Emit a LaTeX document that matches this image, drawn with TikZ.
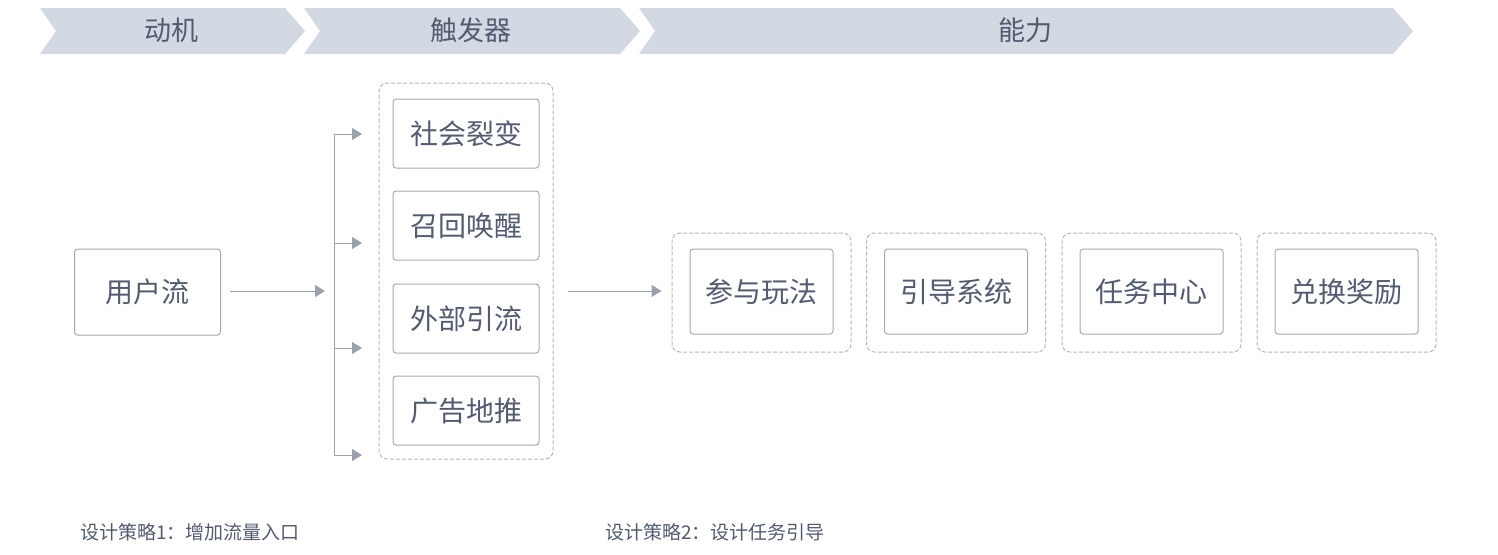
\documentclass[tikz,border=0pt]{standalone}
\usepackage{fontspec}
\newfontfamily\cjk{Noto Sans CJK SC}
\usetikzlibrary{arrows.meta}

\definecolor{band}{HTML}{D3D9E2}
\definecolor{ink}{HTML}{525B70}
\definecolor{boxline}{HTML}{A3A9B3}
\definecolor{dashline}{HTML}{B3B7BE}
\definecolor{arrowc}{HTML}{9AA1AC}

\tikzset{
  box/.style={draw=boxline,line width=0.5pt,rounded corners=1.5pt,inner sep=0pt,
    text=ink,font=\cjk\fontsize{14pt}{16pt}\selectfont},
  group/.style={draw=dashline,line width=0.5pt,dash pattern=on 2pt off 1pt,
    rounded corners=4pt,inner sep=0pt},
  flow/.style={draw=arrowc,line width=0.5pt,-{Triangle[length=5pt,width=6pt]}},
  stage/.style={text=ink,font=\cjk\fontsize{13.5pt}{15pt}\selectfont},
  note/.style={text=ink,anchor=west,inner sep=0pt,font=\cjk\fontsize{9.5pt}{11pt}\selectfont}
}

\begin{document}
\begin{tikzpicture}[x=0.5pt,y=-0.5pt]
            \useasboundingbox (0,0) rectangle (1498,554);

            % stage bands
            \foreach \l/\r/\t/\n in {40/285/动机/mot,304/620/触发器/trig,639/1393/能力/abil}{
                \fill[band] (\l,8) -- (\r,8) -- (\r+20,31) -- (\r,54) -- (\l,54) -- (\l+16,31) -- cycle;
                \node[stage] (\n) at ({(\l+\r+18)/2},30) {\t};
            }

            % motivation
            \node[box,minimum width=73pt,minimum height=43pt] (user) at (147.5,292) {用户流};

            % triggers
            \node[group,minimum width=87pt,minimum height=188pt] (trigbox) at (466,271) {};
            \begin{scope}[every node/.style={box,minimum width=73pt,minimum height=34.5pt}]
            \node (t1) at (466,133.5) {社会裂变};
            \node (t2) at (466,225.5) {召回唤醒};
            \node (t3) at (466,318.5) {外部引流};
            \node (t4) at (466,410.5) {广告地推};
            \end{scope}

            % fork
            \coordinate (fork) at (334,291);
            \coordinate (ftop) at (334,134);
            \coordinate (fbot) at (334,455);
            \draw[flow,shorten <=4.5pt,shorten >=4.5pt] (user.east |- fork) -- (fork);
            \draw[draw=arrowc,line width=0.5pt] (ftop) -- (fbot);
            \foreach \y [count=\i] in {134,243,348,455}{
                \coordinate (b\i) at (334,\y);
                \coordinate (e\i) at (362,\y);
                \draw[flow] (b\i) -- (e\i);
            }

            % abilities
            \foreach \x/\t [count=\i] in {761.5/参与玩法,956/引导系统,1151.5/任务中心,1346.5/兑换奖励}{
                \node[group,minimum width=89.5pt,minimum height=59.5pt] (g\i) at (\x,292.5) {};
                \node[box,minimum width=71.5pt,minimum height=42.5pt] (a\i) at (\x,291.5) {\t};
            }
            \draw[flow,shorten <=7pt,shorten >=5pt] (trigbox.east |- fork) -- (g1.west |- fork);

            % notes
            \node[note] (s1) at (80,532) {设计策略1：增加流量入口};
            \node[note] (s2) at (605,532) {设计策略2：设计任务引导};
\end{tikzpicture}
\end{document}
